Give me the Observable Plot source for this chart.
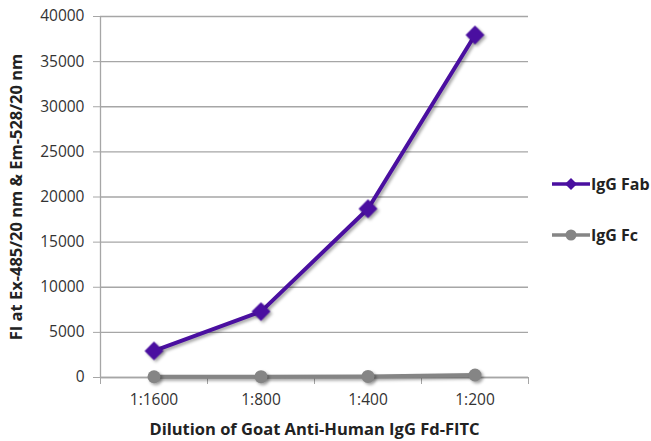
<!DOCTYPE html>
<html><head><meta charset="utf-8">
<script src="https://cdn.jsdelivr.net/npm/d3@7"></script>
<script src="https://cdn.jsdelivr.net/npm/@observablehq/plot@0.6"></script>
<style>
body{margin:0;background:#fff;font-family:"Open Sans",sans-serif;}
#wrap{position:relative;width:651px;height:441px;overflow:hidden;}
#legend{position:absolute;left:552px;top:0;font:bold 16px "Open Sans",sans-serif;color:#222;}
.item{position:absolute;left:0;display:flex;align-items:center;white-space:nowrap;}
</style></head><body>
<div id="wrap"><div id="legend"></div></div>
<script>
const categories = ["1:1600", "1:800", "1:400", "1:200"];
const fabValues = [2950, 7300, 18700, 37950];
const fcValues = [80, 90, 120, 280];
const seriesNames = ["IgG Fab", "IgG Fc"];
const seriesColors = ["#4a0fa0", "#858585"];
const yTicks = [0, 5000, 10000, 15000, 20000, 25000, 30000, 35000, 40000];

const rows = [];
categories.forEach((c, i) => {
  rows.push({series: seriesNames[0], cat: c, i, v: fabValues[i]});
  rows.push({series: seriesNames[1], cat: c, i, v: fcValues[i]});
});
const fab = rows.filter(d => d.series === seriesNames[0]);
const fc = rows.filter(d => d.series === seriesNames[1]);
const idx = categories.map((c, i) => i);
const bounds = categories.map((c, i) => i - 0.5).concat([categories.length - 0.5]);

const chart = Plot.plot({
  width: 651, height: 441,
  marginLeft: 100, marginRight: 123, marginTop: 16, marginBottom: 64,
  style: {fontFamily: "'Open Sans', sans-serif", fontSize: "15.5px", color: "#333", background: "#fff", overflow: "visible"},
  x: {type: "linear", domain: [-0.5, categories.length - 0.5]},
  y: {domain: [0, 40000]},
  marks: [
    Plot.gridY(yTicks, {stroke: "#a6a6a6", strokeOpacity: 1, strokeWidth: 1.3}),
    Plot.ruleX([-0.5], {stroke: "#a6a6a6", strokeWidth: 1.3}),
    Plot.ruleY([0], {stroke: "#a6a6a6", strokeWidth: 1.3}),
    Plot.axisY(yTicks, {tickSize: 7, tickPadding: 9, stroke: "#a6a6a6", fill: "#333", fontSize: 15.5, tickFormat: d => String(d),
      label: "FI at Ex-485/20 nm & Em-528/20 nm", labelAnchor: "center", labelArrow: "none", labelOffset: 90}),
    Plot.axisX(bounds, {tickSize: 7, stroke: "#a6a6a6", tickFormat: () => "", label: null}),
    Plot.axisX(idx, {tickSize: 0, tickPadding: 16, fill: "#333", fontSize: 15.5, tickFormat: i => categories[i],
      label: "Dilution of Goat Anti-Human IgG Fd-FITC", labelAnchor: "center", labelArrow: "none", labelOffset: 57}),
    Plot.line(fc, {x: "i", y: "v", stroke: seriesColors[1], strokeWidth: 4}),
    Plot.dot(fc, {x: "i", y: "v", fill: seriesColors[1], r: 6.5, symbol: "circle"}),
    Plot.line(fab, {x: "i", y: "v", stroke: seriesColors[0], strokeWidth: 4}),
    Plot.dot(fab, {x: "i", y: "v", fill: seriesColors[0], r: 8.5, symbol: "diamond2"})
  ]
});
document.getElementById("wrap").prepend(chart);
const svg = d3.select(chart);
svg.selectAll("g[aria-label=line], g[aria-label=dot]").style("filter", "drop-shadow(2px 2px 1.5px rgba(0,0,0,0.35))");
svg.selectAll("g[aria-label='y-axis label'] text, g[aria-label='x-axis label'] text").style("font-weight", "bold").style("fill", "#222").style("font-size", "16.5px");

const legend = d3.select("#legend");
const legY = [184, 235];
seriesNames.forEach((n, k) => {
  const it = legend.append("div").attr("class", "item").style("top", (legY[k] - 11) + "px");
  const s = it.append("svg").attr("width", 38).attr("height", 22);
  s.append("line").attr("x1", 0).attr("x2", 38).attr("y1", 11).attr("y2", 11).attr("stroke", seriesColors[k]).attr("stroke-width", 3.5);
  if (k === 0) s.append("path").attr("d", "M19,5L25,11L19,17L13,11Z").attr("fill", seriesColors[k]);
  else s.append("circle").attr("cx", 19).attr("cy", 11).attr("r", 5.5).attr("fill", seriesColors[k]);
  it.append("span").text(n).style("margin-left", "1px").style("line-height", "22px");
});
</script></body></html>
